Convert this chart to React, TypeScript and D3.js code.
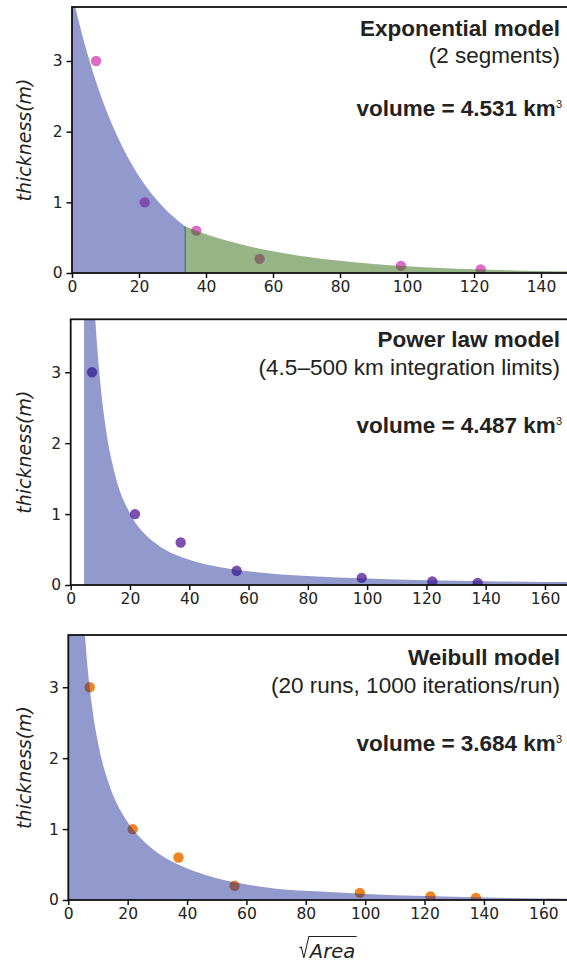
import React, { useEffect, useRef } from "react";
import * as d3 from "d3";

const WIDTH = 567;
const HEIGHT = 965;

// Observed thickness vs sqrt(Area)
const obsSqrtArea = [7.2, 21.7, 37.1, 56.0, 98.2, 122.0, 137.3];
const obsThickness = [3.0, 1.0, 0.6, 0.2, 0.1, 0.05, 0.03];

// Exponential model (2 segments)
const expSeg1X = [0, 2.5, 5, 10, 15, 20, 25, 30, 33.8];
const expSeg1Y = [3.96, 3.47, 3.04, 2.33, 1.79, 1.37, 1.05, 0.805, 0.658];
const expSeg2X = [33.8, 40, 50, 60, 70, 80, 90, 100, 110, 120, 130, 140, 150];
const expSeg2Y = [0.658, 0.547, 0.41, 0.307, 0.23, 0.172, 0.129, 0.097, 0.072, 0.054, 0.04, 0.03, 0.023];

// Power law model
const powerX = [4.5, 6, 8, 10, 12, 15, 20, 25, 30, 40, 50, 60, 80, 100, 120, 140, 160, 170];
const powerY = [9.43, 6.12, 3.98, 2.85, 2.17, 1.55, 1.01, 0.72, 0.548, 0.356, 0.255, 0.194, 0.126, 0.09, 0.068, 0.054, 0.044, 0.041];

// Weibull model
const weibullX = [0, 1, 2, 4, 6, 8, 10, 14, 18, 22, 28, 37, 46, 56, 70, 85, 100, 120, 140, 160, 170];
const weibullY = [40, 15.6, 8.9, 5.0, 3.53, 2.73, 2.22, 1.6, 1.23, 0.985, 0.735, 0.5, 0.356, 0.25, 0.16, 0.12, 0.085, 0.055, 0.035, 0.022, 0.018];

const xTicksTop = [0, 20, 40, 60, 80, 100, 120, 140];
const xTicksLower = [0, 20, 40, 60, 80, 100, 120, 140, 160];
const yTicks = [0, 1, 2, 3];

const titles = ["Exponential model", "Power law model", "Weibull model"];
const subtitles = ["(2 segments)", "(4.5\u2013500 km integration limits)", "(20 runs, 1000 iterations/run)"];
const volumes = ["volume = 4.531 km", "volume = 4.487 km", "volume = 3.684 km"];

const BLUE = "#1a2a96";
const BLUE_OP = 0.48;
const GREEN = "#2f6a10";
const GREEN_OP = 0.5;

type Seg = { xs: number[]; ys: number[]; color: string; op: number };

const panels = [
  {
    left: 72, right: 574.5, top: 7, bottom: 273, xMax: 150, yMax: 3.764,
    xTicks: xTicksTop, nPts: 6, ptColor: "#dc6cc6",
    segs: [
      { xs: expSeg1X, ys: expSeg1Y, color: BLUE, op: BLUE_OP },
      { xs: expSeg2X, ys: expSeg2Y, color: GREEN, op: GREEN_OP },
    ] as Seg[],
    boundary: true,
    tb: [36, 63, 116],
  },
  {
    left: 70.7, right: 574.6, top: 319.3, bottom: 585, xMax: 170, yMax: 3.747,
    xTicks: xTicksLower, nPts: 7, ptColor: "#7e4fae",
    segs: [{ xs: powerX, ys: powerY, color: BLUE, op: BLUE_OP }] as Seg[],
    boundary: false,
    tb: [346.7, 375, 433],
  },
  {
    left: 68.3, right: 573, top: 635, bottom: 900, xMax: 170, yMax: 3.737,
    xTicks: xTicksLower, nPts: 7, ptColor: "#ef8420",
    segs: [{ xs: weibullX, ys: weibullY, color: BLUE, op: BLUE_OP }] as Seg[],
    boundary: false,
    tb: [665, 693, 751],
  },
];

const TICK_FONT = "'DejaVu Sans', sans-serif";
const TITLE_FONT = "'Liberation Sans', Arial, sans-serif";

export default function App() {
  const ref = useRef<SVGSVGElement>(null);

  useEffect(() => {
    const svg = d3.select(ref.current!);
    svg.selectAll("*").remove();
    svg.append("rect").attr("width", WIDTH).attr("height", HEIGHT).attr("fill", "#fff");

    panels.forEach((p, i) => {
      const x = d3.scaleLinear().domain([0, p.xMax]).range([p.left, p.right]);
      const y = d3.scaleLinear().domain([0, p.yMax]).range([p.bottom, p.top]);
      const g = svg.append("g");

      const clipId = `clip-${i}`;
      svg.append("clipPath").attr("id", clipId)
        .append("rect").attr("x", p.left).attr("y", p.top)
        .attr("width", p.right - p.left).attr("height", p.bottom - p.top);

      const plot = g.append("g").attr("clip-path", `url(#${clipId})`);

      // observation points (drawn beneath the model fill)
      const pts = d3.range(p.nPts).map((k) => ({ x: obsSqrtArea[k], y: obsThickness[k] }));
      plot.selectAll("circle").data(pts).join("circle")
        .attr("cx", (d) => x(d.x)).attr("cy", (d) => y(d.y)).attr("r", 5.2)
        .attr("fill", p.ptColor);

      const area = d3.area<[number, number]>()
        .x((d) => x(d[0])).y0(y(0)).y1((d) => y(d[1]))
        .curve(d3.curveMonotoneX);

      p.segs.forEach((s) => {
        const data: [number, number][] = s.xs.map((v, k) => [v, s.ys[k]]);
        plot.append("path").attr("d", area(data)!)
          .attr("fill", s.color).attr("fill-opacity", s.op);
      });

      if (p.boundary) {
        const s = p.segs[0];
        const bx = s.xs[s.xs.length - 1];
        const byv = s.ys[s.ys.length - 1];
        plot.append("line").attr("x1", x(bx)).attr("x2", x(bx))
          .attr("y1", y(0)).attr("y2", y(byv))
          .attr("stroke", "#4b7f86").attr("stroke-width", 1.5);
      }

      // frame
      g.append("rect").attr("x", p.left).attr("y", p.top)
        .attr("width", p.right - p.left).attr("height", p.bottom - p.top)
        .attr("fill", "none").attr("stroke", "#111").attr("stroke-width", 1.8);

      // x axis
      const xa = g.append("g").attr("transform", `translate(0,${p.bottom})`)
        .call(d3.axisBottom(x).tickValues(p.xTicks).tickSize(5).tickPadding(3).tickFormat(d3.format("d")));
      xa.select(".domain").remove();
      xa.selectAll(".tick line").attr("stroke", "#111").attr("stroke-width", 1.5);
      xa.selectAll(".tick text").attr("fill", "#222").attr("font-size", 15.5).attr("font-family", TICK_FONT);

      const ya = g.append("g").attr("transform", `translate(${p.left},0)`)
        .call(d3.axisLeft(y).tickValues(yTicks).tickSize(5.5).tickPadding(4).tickFormat(d3.format("d")));
      ya.select(".domain").remove();
      ya.selectAll(".tick line").attr("stroke", "#111").attr("stroke-width", 1.5);
      ya.selectAll(".tick text").attr("fill", "#222").attr("font-size", 15.5).attr("font-family", TICK_FONT);

      // y label
      const cy = (p.top + p.bottom) / 2;
      g.append("text").attr("transform", `translate(31,${cy}) rotate(-90)`)
        .attr("text-anchor", "middle").attr("font-family", TICK_FONT)
        .attr("font-style", "italic").attr("font-size", 19).attr("fill", "#222")
        .text("thickness(m)");

      // annotations
      g.append("text").attr("x", 560).attr("y", p.tb[0]).attr("text-anchor", "end")
        .attr("font-family", TITLE_FONT).attr("font-weight", "bold").attr("font-size", 22.5)
        .attr("fill", "#222").text(titles[i]);
      g.append("text").attr("x", 560).attr("y", p.tb[1]).attr("text-anchor", "end")
        .attr("font-family", TITLE_FONT).attr("font-size", 22.5)
        .attr("fill", "#222").text(subtitles[i]);
      const vt = g.append("text").attr("x", 562).attr("y", p.tb[2]).attr("text-anchor", "end")
        .attr("font-family", TITLE_FONT).attr("font-weight", "bold").attr("font-size", 22.5)
        .attr("fill", "#222");
      vt.append("tspan").text(volumes[i]);
      vt.append("tspan").attr("dy", -8).attr("font-size", 11).attr("font-weight", "normal").text("3");
    });

    // x label: sqrt(Area)
    const base = 958;
    const cx = 327;
    const t = svg.append("text").attr("y", base).attr("font-family", TICK_FONT)
      .attr("font-style", "italic").attr("font-size", 19.5).attr("fill", "#222").text("Area");
    const tw = (t.node() as SVGTextElement).getComputedTextLength();
    const totalW = 10 + tw;
    const x0 = cx - totalW / 2;
    t.attr("x", x0 + 10.5);
    svg.append("path")
      .attr("d", `M${x0},${base - 10} L${x0 + 2},${base - 11} L${x0 + 4.5},${base} L${x0 + 9.5},${base - 21.5} L${x0 + 10 + tw + 2},${base - 21.5}`)
      .attr("fill", "none").attr("stroke", "#222").attr("stroke-width", 1.1);
  }, []);

  return (
    <svg ref={ref} width={WIDTH} height={HEIGHT}
      style={{ position: "absolute", left: 0, top: 0, display: "block" }} />
  );
}
